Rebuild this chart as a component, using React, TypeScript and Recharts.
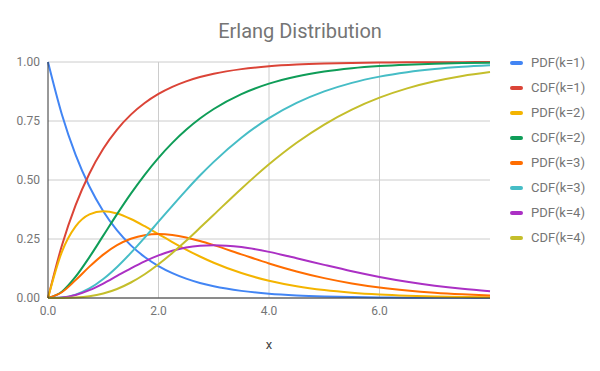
import React from 'react';
import { LineChart, Line, XAxis, YAxis, CartesianGrid } from 'recharts';

const xValues = [0, 0.25, 0.5, 0.75, 1, 1.25, 1.5, 1.75, 2, 2.25, 2.5, 2.75, 3, 3.5, 4, 4.5, 5, 5.5, 6, 6.5, 7, 7.5, 8];
const pdf1 = [1, 0.7788, 0.6065, 0.4724, 0.3679, 0.2865, 0.2231, 0.1738, 0.1353, 0.1054, 0.0821, 0.0639, 0.0498, 0.0302, 0.0183, 0.0111, 0.0067, 0.0041, 0.0025, 0.0015, 0.0009, 0.0006, 0.0003];
const cdf1 = [0, 0.2212, 0.3935, 0.5276, 0.6321, 0.7135, 0.7769, 0.8262, 0.8647, 0.8946, 0.9179, 0.9361, 0.9502, 0.9698, 0.9817, 0.9889, 0.9933, 0.9959, 0.9975, 0.9985, 0.9991, 0.9994, 0.9997];
const pdf2 = [0, 0.1947, 0.3033, 0.3543, 0.3679, 0.3581, 0.3347, 0.3041, 0.2707, 0.2372, 0.2052, 0.1758, 0.1494, 0.1057, 0.0733, 0.05, 0.0337, 0.0225, 0.0149, 0.0098, 0.0064, 0.0041, 0.0027];
const cdf2 = [0, 0.0265, 0.0902, 0.1733, 0.2642, 0.3554, 0.4422, 0.5221, 0.594, 0.6574, 0.7127, 0.7604, 0.8009, 0.8641, 0.9084, 0.9389, 0.9596, 0.9734, 0.9826, 0.9887, 0.9927, 0.9953, 0.997];
const pdf3 = [0, 0.0243, 0.0758, 0.1329, 0.1839, 0.2238, 0.251, 0.2661, 0.2707, 0.2668, 0.2565, 0.2416, 0.224, 0.185, 0.1465, 0.1125, 0.0842, 0.0618, 0.0446, 0.0318, 0.0223, 0.0156, 0.0107];
const cdf3 = [0, 0.0022, 0.0144, 0.0404, 0.0803, 0.1315, 0.1912, 0.2559, 0.3233, 0.3906, 0.4562, 0.5188, 0.5768, 0.6791, 0.7619, 0.8264, 0.8753, 0.9116, 0.938, 0.957, 0.9704, 0.9797, 0.9863];
const pdf4 = [0, 0.002, 0.0126, 0.0332, 0.0613, 0.0933, 0.1255, 0.1552, 0.1804, 0.2001, 0.2138, 0.2215, 0.224, 0.2158, 0.1954, 0.1687, 0.1404, 0.1133, 0.0892, 0.0688, 0.0521, 0.0389, 0.0286];
const cdf4 = [0, 0.0002, 0.0018, 0.0072, 0.019, 0.0383, 0.0657, 0.1007, 0.1429, 0.1906, 0.2424, 0.2973, 0.3528, 0.4633, 0.5665, 0.6577, 0.735, 0.7983, 0.8488, 0.8882, 0.9182, 0.9409, 0.9576];

const seriesNames = ['PDF(k=1)', 'CDF(k=1)', 'PDF(k=2)', 'CDF(k=2)', 'PDF(k=3)', 'CDF(k=3)', 'PDF(k=4)', 'CDF(k=4)'];
const seriesValues = [pdf1, cdf1, pdf2, cdf2, pdf3, cdf3, pdf4, cdf4];
const colors = ['#4285F4', '#DB4437', '#F4B400', '#0F9D58', '#FF6D00', '#46BDC6', '#AB30C4', '#C4BE2B'];
const xTicks = [0, 2, 4, 6];
const gridX = [2, 4, 6];
const yTicks = [0, 0.25, 0.5, 0.75, 1];

const data = xValues.map((x, i) => {
  const row: Record<string, number> = { x };
  seriesNames.forEach((n, j) => {
    row[n] = seriesValues[j][i];
  });
  return row;
});

const FONT = 'Roboto, Arial, sans-serif';

const LegendBlock = () => (
  <div style={{ position: 'absolute', left: 510, top: 50, fontFamily: FONT }}>
    {seriesNames.map((n, i) => (
      <div key={n} style={{ display: 'flex', alignItems: 'center', height: 25 }}>
        <div style={{ width: 13, height: 4, borderRadius: 2, background: colors[i], marginRight: 8 }} />
        <span style={{ fontSize: 13, color: '#757575' }}>{n}</span>
      </div>
    ))}
  </div>
);

export default function App() {
  return (
    <div style={{ position: 'absolute', left: 0, top: 0, width: 600, height: 371, background: '#fff' }}>
      <LineChart width={600} height={371} data={data} margin={{ top: 62, right: 110, bottom: 0, left: 0 }}>
        <text x={300} y={38} textAnchor="middle" fontFamily={FONT} fontSize={20} fill="#757575">
          Erlang Distribution
        </text>
        <CartesianGrid stroke="#cccccc" strokeWidth={1} verticalValues={gridX} horizontalValues={yTicks} />
        <XAxis
          dataKey="x"
          type="number"
          domain={[0, 8]}
          ticks={xTicks}
          tickFormatter={(v: number) => v.toFixed(1)}
          tickLine={false}
          axisLine={{ stroke: '#333333', strokeWidth: 1 }}
          tick={{ fill: '#757575', fontSize: 12, fontFamily: FONT }}
          height={73}
          label={{ value: 'x', position: 'insideBottom', offset: 22, fill: '#444444', fontSize: 13, fontFamily: FONT }}
        />
        <YAxis
          type="number"
          domain={[0, 1]}
          ticks={yTicks}
          tickFormatter={(v: number) => v.toFixed(2)}
          tickLine={false}
          axisLine={{ stroke: '#333333', strokeWidth: 1 }}
          tick={{ fill: '#757575', fontSize: 12, fontFamily: FONT }}
          width={48}
        />
        {seriesNames.map((n, i) => (
          <Line
            key={n}
            type="monotone"
            dataKey={n}
            stroke={colors[i]}
            strokeWidth={2}
            dot={false}
            isAnimationActive={false}
          />
        ))}
      </LineChart>
      <LegendBlock />
    </div>
  );
}
